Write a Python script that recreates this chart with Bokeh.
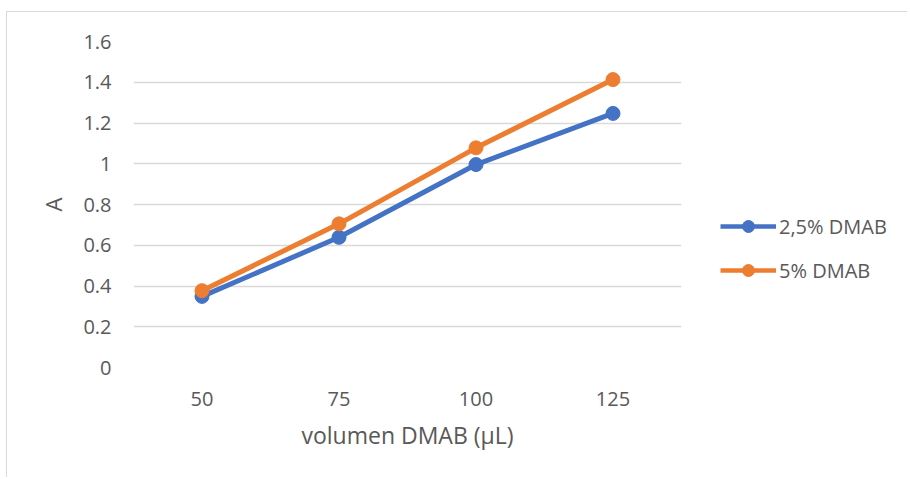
from bokeh.plotting import figure
from bokeh.models import FactorRange, Range1d, Legend, LegendItem, ColumnDataSource, FixedTicker
from bokeh.layouts import row
from bokeh.embed import file_html
from bokeh.resources import INLINE

volumes = ["50", "75", "100", "125"]
series_25 = [0.349, 0.639, 0.996, 1.247]
series_5 = [0.377, 0.705, 1.078, 1.413]
series_names = ["2,5% DMAB", "5% DMAB"]
y_ticks = [0, 0.2, 0.4, 0.6, 0.8, 1.0, 1.2, 1.4, 1.6]

FONT = "Open Sans"
TXT = "#595959"
BLUE = "#4472C4"
ORANGE = "#ED7D31"
H = 465

src = ColumnDataSource(dict(x=volumes, a=series_25, b=series_5))

p = figure(width=694, height=H, x_range=FactorRange(*volumes), y_range=Range1d(0, 1.6),
           output_backend="svg", toolbar_location=None,
           min_border_left=126, min_border_right=20, min_border_top=29, min_border_bottom=110)

p.outline_line_color = None
p.background_fill_color = "white"
p.border_fill_color = "white"

p.line("x", "a", source=src, line_color=BLUE, line_width=5)
p.scatter("x", "a", source=src, size=14, fill_color=BLUE, line_color=BLUE)
p.line("x", "b", source=src, line_color=ORANGE, line_width=5)
p.scatter("x", "b", source=src, size=14, fill_color=ORANGE, line_color=ORANGE)

p.xgrid.grid_line_color = None
p.ygrid.grid_line_color = "#D9D9D9"
p.ygrid.grid_line_width = 1.5
p.yaxis.ticker = FixedTicker(ticks=y_ticks)
p.yaxis.major_label_overrides = {0: "0", 1.0: "1", 1: "1"}

for ax in (p.xaxis[0], p.yaxis[0]):
    ax.axis_line_color = None
    ax.major_tick_line_color = None
    ax.minor_tick_line_color = None
    ax.major_label_text_font = FONT
    ax.major_label_text_font_size = "20px"
    ax.major_label_text_color = TXT
    ax.axis_label_text_font = FONT
    ax.axis_label_text_font_style = "normal"
    ax.axis_label_text_color = TXT

p.xaxis.major_label_standoff = 18
p.yaxis.major_label_standoff = 16
p.xaxis.axis_label = "volumen DMAB (µL)"
p.xaxis.axis_label_text_font_size = "23px"
p.xaxis.axis_label_standoff = 10
p.yaxis.axis_label = "A"
p.yaxis.axis_label_text_font_size = "22px"
p.yaxis.axis_label_standoff = 12

# legend panel (its dummy glyphs sit outside the visible range; only the legend shows)
pl = figure(width=206, height=H, x_range=Range1d(0, 1), y_range=Range1d(0, 1),
            x_axis_type=None, y_axis_type=None, output_backend="svg", toolbar_location=None,
            min_border=0)
pl.outline_line_color = None
pl.grid.grid_line_color = None
pl.border_fill_color = "white"
ll1 = pl.line(x=[5, 6], y=[5, 6], line_color=BLUE, line_width=4.5)
lc1 = pl.scatter(x=[5], y=[5], size=12, fill_color=BLUE, line_color=BLUE)
ll2 = pl.line(x=[5, 6], y=[5, 6], line_color=ORANGE, line_width=4.5)
lc2 = pl.scatter(x=[5], y=[5], size=12, fill_color=ORANGE, line_color=ORANGE)

legend = Legend(items=[LegendItem(label=series_names[0], renderers=[ll1, lc1]),
                       LegendItem(label=series_names[1], renderers=[ll2, lc2])],
                location=(19, 82), orientation="vertical")
legend.border_line_color = None
legend.background_fill_alpha = 0
legend.padding = 0
legend.margin = 0
legend.spacing = 14
legend.glyph_width = 56
legend.glyph_height = 30
legend.label_height = 30
legend.label_standoff = 3
legend.label_text_font = FONT
legend.label_text_font_size = "20px"
legend.label_text_color = TXT
pl.add_layout(legend, "center")

layout = row(p, pl)
layout.styles = {"margin-left": "6px", "margin-top": "11px",
                 "border-left": "1px solid #D9D9D9", "border-top": "1px solid #D9D9D9"}

open("out.html", "w").write(file_html(layout, INLINE))
